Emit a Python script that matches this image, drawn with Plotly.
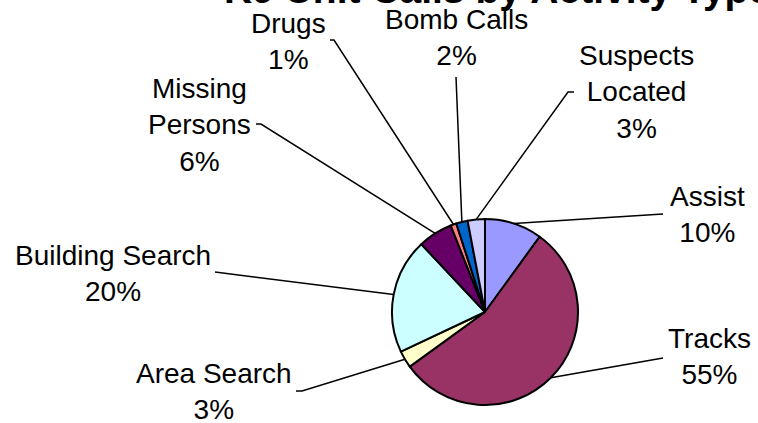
import math
import plotly.graph_objects as go

W, H = 758, 423

# ---- data ----
categories = ["Assist", "Tracks", "Area Search", "Building Search",
              "Missing Persons", "Drugs", "Bomb Calls", "Suspects Located"]
display_names = ["Assist", "Tracks", "Area Search", "Building Search",
                 "Missing<br>Persons", "Drugs", "Bomb Calls", "Suspects<br>Located"]
percentages = [10, 55, 3, 20, 6, 1, 2, 3]
colors = ["#9999FF", "#993366", "#FFFFCC", "#CCFFFF",
          "#660066", "#FF8080", "#0066CC", "#CCCCFF"]
title_text = "K9 Unit Calls by Activity Type"

# ---- layout constants (pixels) ----
PIE_CX, PIE_CY, PIE_R = 485, 312, 93
FONT = "Liberation Sans, Arial, sans-serif"
LABEL_SIZE = 28
# label block centres
label_pos = [(707, 215), (709, 356), (214, 391), (113, 273),
             (199, 125), (288, 41), (456, 37), (636, 92)]
# leader-line points starting at the label side
leader_start = [[(663, 214)], [(663, 358)], [(296, 391), (302, 391)],
                [(215, 272)], [(256, 124), (261, 124)], [(330, 40), (334, 40)],
                [(456, 77)], [(574, 92), (568, 92)]]


def px(x):
    return x / W


def py(y):
    return 1 - y / H


fig = go.Figure(go.Pie(
    labels=categories,
    values=percentages,
    sort=False,
    direction="clockwise",
    rotation=0,
    marker=dict(colors=colors, line=dict(color="black", width=2)),
    textinfo="none",
    hoverinfo="label+percent",
    domain=dict(x=[px(PIE_CX - PIE_R), px(PIE_CX + PIE_R)],
                y=[py(PIE_CY + PIE_R), py(PIE_CY - PIE_R)]),
    showlegend=False,
))

total = sum(percentages)
cum = 0
annotations = []
shapes = []
for i, v in enumerate(percentages):
    mid = (cum + v / 2) / total * 2 * math.pi
    cum += v
    ex = PIE_CX + PIE_R * math.sin(mid)
    ey = PIE_CY - PIE_R * math.cos(mid)
    pts = leader_start[i] + [(ex, ey)]
    path = "M " + " L ".join(f"{px(x)},{py(y)}" for x, y in pts)
    shapes.append(dict(type="path", path=path, xref="paper", yref="paper",
                       line=dict(color="black", width=1.5)))
    lx, ly = label_pos[i]
    annotations.append(dict(
        text=f"{display_names[i]}<br>{round(v / total * 100)}%",
        x=px(lx), y=py(ly), xref="paper", yref="paper",
        xanchor="center", yanchor="middle", showarrow=False, align="center",
        font=dict(family=FONT, size=LABEL_SIZE, color="black")))

annotations.append(dict(
    text=f"<b>{title_text}</b>", x=px(497), y=py(13), xref="paper", yref="paper",
    xanchor="center", yanchor="bottom", showarrow=False,
    font=dict(family=FONT, size=39, color="black")))

fig.update_layout(
    width=W, height=H,
    margin=dict(l=0, r=0, t=0, b=0),
    paper_bgcolor="white", plot_bgcolor="white",
    annotations=annotations, shapes=shapes,
)

fig.write_html("out.html", config={"displayModeBar": False},
               post_script="document.body.style.margin='0';document.body.style.overflow='hidden';")
